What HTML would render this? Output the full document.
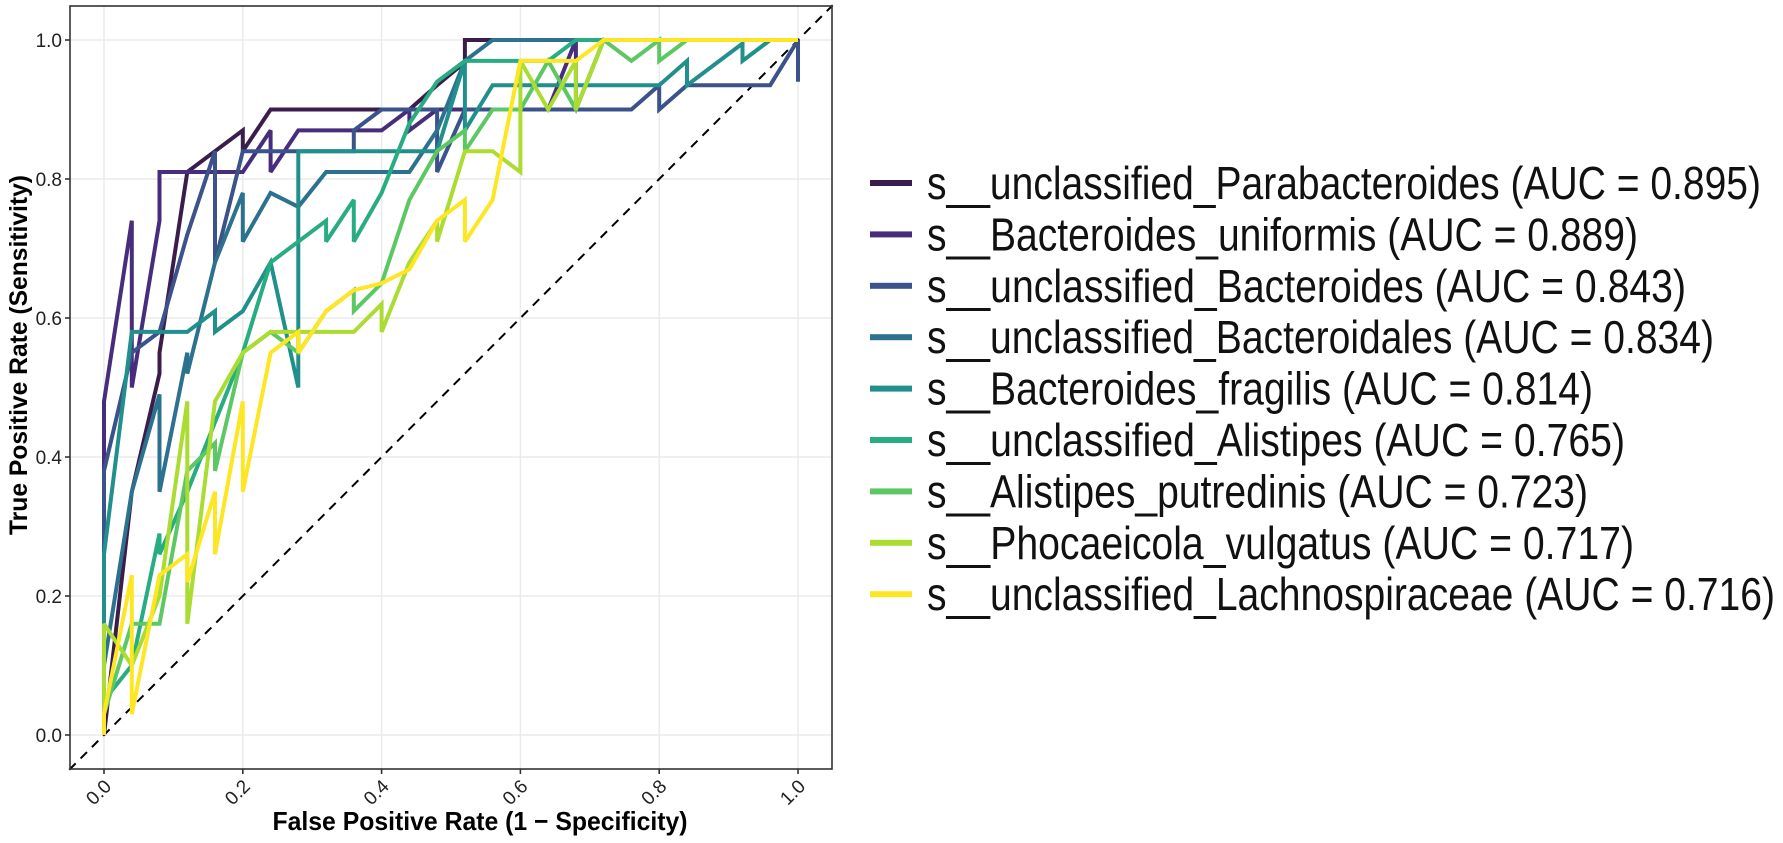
<!DOCTYPE html>
<html><head><meta charset="utf-8"><style>
html,body{margin:0;padding:0;background:#fff;}
svg{display:block;font-family:"Liberation Sans",Arial,sans-serif;}
</style></head><body>
<svg id="chart" width="1783" height="843" viewBox="0 0 1783 843"></svg>
<script>
const seriesNames = ["s__unclassified_Parabacteroides","s__Bacteroides_uniformis","s__unclassified_Bacteroides","s__unclassified_Bacteroidales","s__Bacteroides_fragilis","s__unclassified_Alistipes","s__Alistipes_putredinis","s__Phocaeicola_vulgatus","s__unclassified_Lachnospiraceae"];
const aucValues = ["0.895","0.889","0.843","0.834","0.814","0.765","0.723","0.717","0.716"];
const seriesColors = ["#3a1d4c","#472D7B","#3B528B","#2C728E","#21908C","#27AD81","#5DC863","#AADC32","#FDE725"];
const xTicks = [0,0.2,0.4,0.6,0.8,1.0];
const yTicks = [0,0.2,0.4,0.6,0.8,1.0];
const tickLabels = ["0.0","0.2","0.4","0.6","0.8","1.0"];
const roc0 = [[0,0],[0.04,0.35],[0.08,0.52],[0.08,0.55],[0.12,0.81],[0.16,0.84],[0.2,0.87],[0.2,0.84],[0.24,0.9],[0.28,0.9],[0.44,0.9],[0.48,0.935],[0.52,0.968],[0.52,1],[1,1]];
const roc1 = [[0,0],[0,0.48],[0.04,0.74],[0.04,0.5],[0.08,0.74],[0.08,0.81],[0.12,0.81],[0.2,0.81],[0.24,0.87],[0.24,0.81],[0.28,0.87],[0.4,0.87],[0.44,0.9],[0.44,0.87],[0.48,0.9],[0.64,0.9],[0.68,1],[0.68,0.9],[0.72,1],[1,1]];
const roc2 = [[0,0],[0,0.38],[0.04,0.55],[0.08,0.58],[0.12,0.72],[0.16,0.84],[0.16,0.68],[0.2,0.84],[0.36,0.84],[0.36,0.87],[0.4,0.9],[0.44,0.9],[0.48,0.9],[0.48,0.81],[0.52,0.9],[0.76,0.9],[0.8,0.935],[0.8,0.9],[0.84,0.935],[0.96,0.935],[1,1],[1,0.94]];
const roc3 = [[0,0],[0,0.1],[0.04,0.35],[0.08,0.49],[0.08,0.35],[0.12,0.55],[0.12,0.52],[0.16,0.68],[0.2,0.78],[0.2,0.71],[0.24,0.78],[0.28,0.76],[0.32,0.81],[0.44,0.81],[0.48,0.87],[0.52,0.97],[0.56,1],[1,1]];
const roc4 = [[0,0],[0,0.26],[0.04,0.58],[0.12,0.58],[0.16,0.61],[0.16,0.58],[0.2,0.61],[0.24,0.68],[0.28,0.5],[0.28,0.84],[0.48,0.84],[0.52,0.97],[0.52,0.87],[0.56,0.935],[0.8,0.935],[0.84,0.97],[0.84,0.935],[0.92,0.995],[0.92,0.97],[0.96,1],[1,1]];
const roc5 = [[0,0],[0,0.05],[0.04,0.1],[0.08,0.29],[0.08,0.26],[0.12,0.35],[0.16,0.45],[0.2,0.55],[0.24,0.68],[0.28,0.71],[0.32,0.74],[0.32,0.71],[0.36,0.77],[0.36,0.71],[0.4,0.78],[0.44,0.88],[0.48,0.94],[0.52,0.97],[0.64,0.97],[0.68,1],[1,1]];
const roc6 = [[0,0],[0,0.03],[0.04,0.16],[0.08,0.16],[0.12,0.38],[0.16,0.42],[0.16,0.38],[0.2,0.55],[0.24,0.58],[0.28,0.55],[0.32,0.61],[0.36,0.64],[0.36,0.61],[0.4,0.65],[0.44,0.77],[0.48,0.84],[0.52,0.87],[0.52,0.84],[0.56,0.9],[0.6,0.9],[0.64,0.97],[0.68,0.9],[0.72,1],[0.76,0.97],[0.8,1],[0.8,0.97],[0.84,1],[1,1]];
const roc7 = [[0,0],[0,0.16],[0.04,0.1],[0.08,0.2],[0.12,0.48],[0.12,0.16],[0.16,0.48],[0.2,0.55],[0.24,0.58],[0.28,0.58],[0.36,0.58],[0.4,0.62],[0.4,0.58],[0.44,0.68],[0.48,0.74],[0.48,0.71],[0.52,0.84],[0.56,0.84],[0.6,0.81],[0.6,0.97],[0.64,0.9],[0.68,0.97],[0.68,0.9],[0.72,1],[1,1]];
const roc8 = [[0,0],[0,0.03],[0.04,0.23],[0.04,0.03],[0.08,0.23],[0.12,0.26],[0.12,0.22],[0.16,0.35],[0.16,0.26],[0.2,0.48],[0.2,0.35],[0.24,0.55],[0.28,0.58],[0.28,0.55],[0.32,0.61],[0.36,0.64],[0.4,0.65],[0.44,0.67],[0.48,0.74],[0.52,0.77],[0.52,0.71],[0.56,0.77],[0.6,0.97],[0.68,0.97],[0.72,1],[1,1]];
const rocData = [roc0,roc1,roc2,roc3,roc4,roc5,roc6,roc7,roc8];
const legendTextWidths = [834,711,759,787,666,698,661,707,848];

const NS = "http://www.w3.org/2000/svg";
const svg = document.getElementById("chart");
const X0 = 104, X1 = 798, Y0 = 735, Y1 = 40;
const PL = 70, PR = 832, PT = 6, PB = 769;
function sx(v){ return X0 + v*(X1-X0); }
function sy(v){ return Y0 - v*(Y0-Y1); }
function mk(tag, attrs, parent){
  const e = document.createElementNS(NS, tag);
  for (const k in attrs) e.setAttribute(k, attrs[k]);
  (parent||svg).appendChild(e);
  return e;
}
const grid = mk("g", {});


xTicks.forEach(v => {
  const l = mk("line", {x1:sx(v), x2:sx(v), y1:PT, y2:PB, stroke:"#ebebeb", "stroke-width":1.5}, grid);
  
  
});
yTicks.forEach(v => {
  const l = mk("line", {x1:PL, x2:PR, y1:sy(v), y2:sy(v), stroke:"#ebebeb", "stroke-width":1.5}, grid);
  
  
});
const diag = mk("line", {x1:sx(-0.05), y1:sy(-0.05), x2:sx(1.05), y2:sy(1.05), stroke:"#000", "stroke-width":2, "stroke-dasharray":"9,7"});


rocData.forEach((pts, i) => {
  const d = pts.map((p,j) => (j?"L":"M") + sx(p[0]).toFixed(1) + "," + sy(p[1]).toFixed(1)).join("");
  const p = mk("path", {d:d, fill:"none", stroke:seriesColors[i], "stroke-width":4, "stroke-linejoin":"miter", "stroke-miterlimit":3});
  
  
});
const border = mk("rect", {x:PL, y:PT, width:PR-PL, height:PB-PT, fill:"none", stroke:"#333", "stroke-width":1.6});


xTicks.forEach((v, i) => {
  const t = mk("line", {x1:sx(v), x2:sx(v), y1:PB, y2:PB+5, stroke:"#333", "stroke-width":1.6});
  
  
  const tx = sx(v), ty = PB + 10;
  const lab = mk("text", {x:tx, y:ty, "font-size":19, fill:"#222", "text-anchor":"end", transform:"rotate(-45 "+tx+" "+ty+") translate(0,12)"});
  lab.textContent = tickLabels[i];
  
  
});
yTicks.forEach((v, i) => {
  const t = mk("line", {x1:PL-5, x2:PL, y1:sy(v), y2:sy(v), stroke:"#333", "stroke-width":1.6});
  
  
  const lab = mk("text", {x:PL-8, y:sy(v)+7, "font-size":19, fill:"#222", "text-anchor":"end"});
  lab.textContent = tickLabels[i];
  
  
});
const xt = mk("text", {x:480, y:830, "font-size":26, "font-weight":"bold", "text-anchor":"middle", textLength:415, lengthAdjust:"spacingAndGlyphs"});
xt.textContent = "False Positive Rate (1 \u2212 Specificity)";


const yt = mk("text", {x:0, y:0, "font-size":25, "font-weight":"bold", "text-anchor":"middle", transform:"translate(27,355) rotate(-90)", textLength:360, lengthAdjust:"spacingAndGlyphs"});
yt.textContent = "True Positive Rate (Sensitivity)";


const leg = mk("g", {});


seriesNames.forEach((n, i) => {
  const cy = 183 + i*51.4;
  const k = mk("rect", {x:870, y:cy-3, width:42, height:6, fill:seriesColors[i]}, leg);
  
  
  const t = mk("text", {x:927, y:cy+16, "font-size":46, fill:"#111", textLength:legendTextWidths[i], lengthAdjust:"spacingAndGlyphs"}, leg);
  t.textContent = n + " (AUC = " + aucValues[i] + ")";
  
  
});
</script>
</body></html>
